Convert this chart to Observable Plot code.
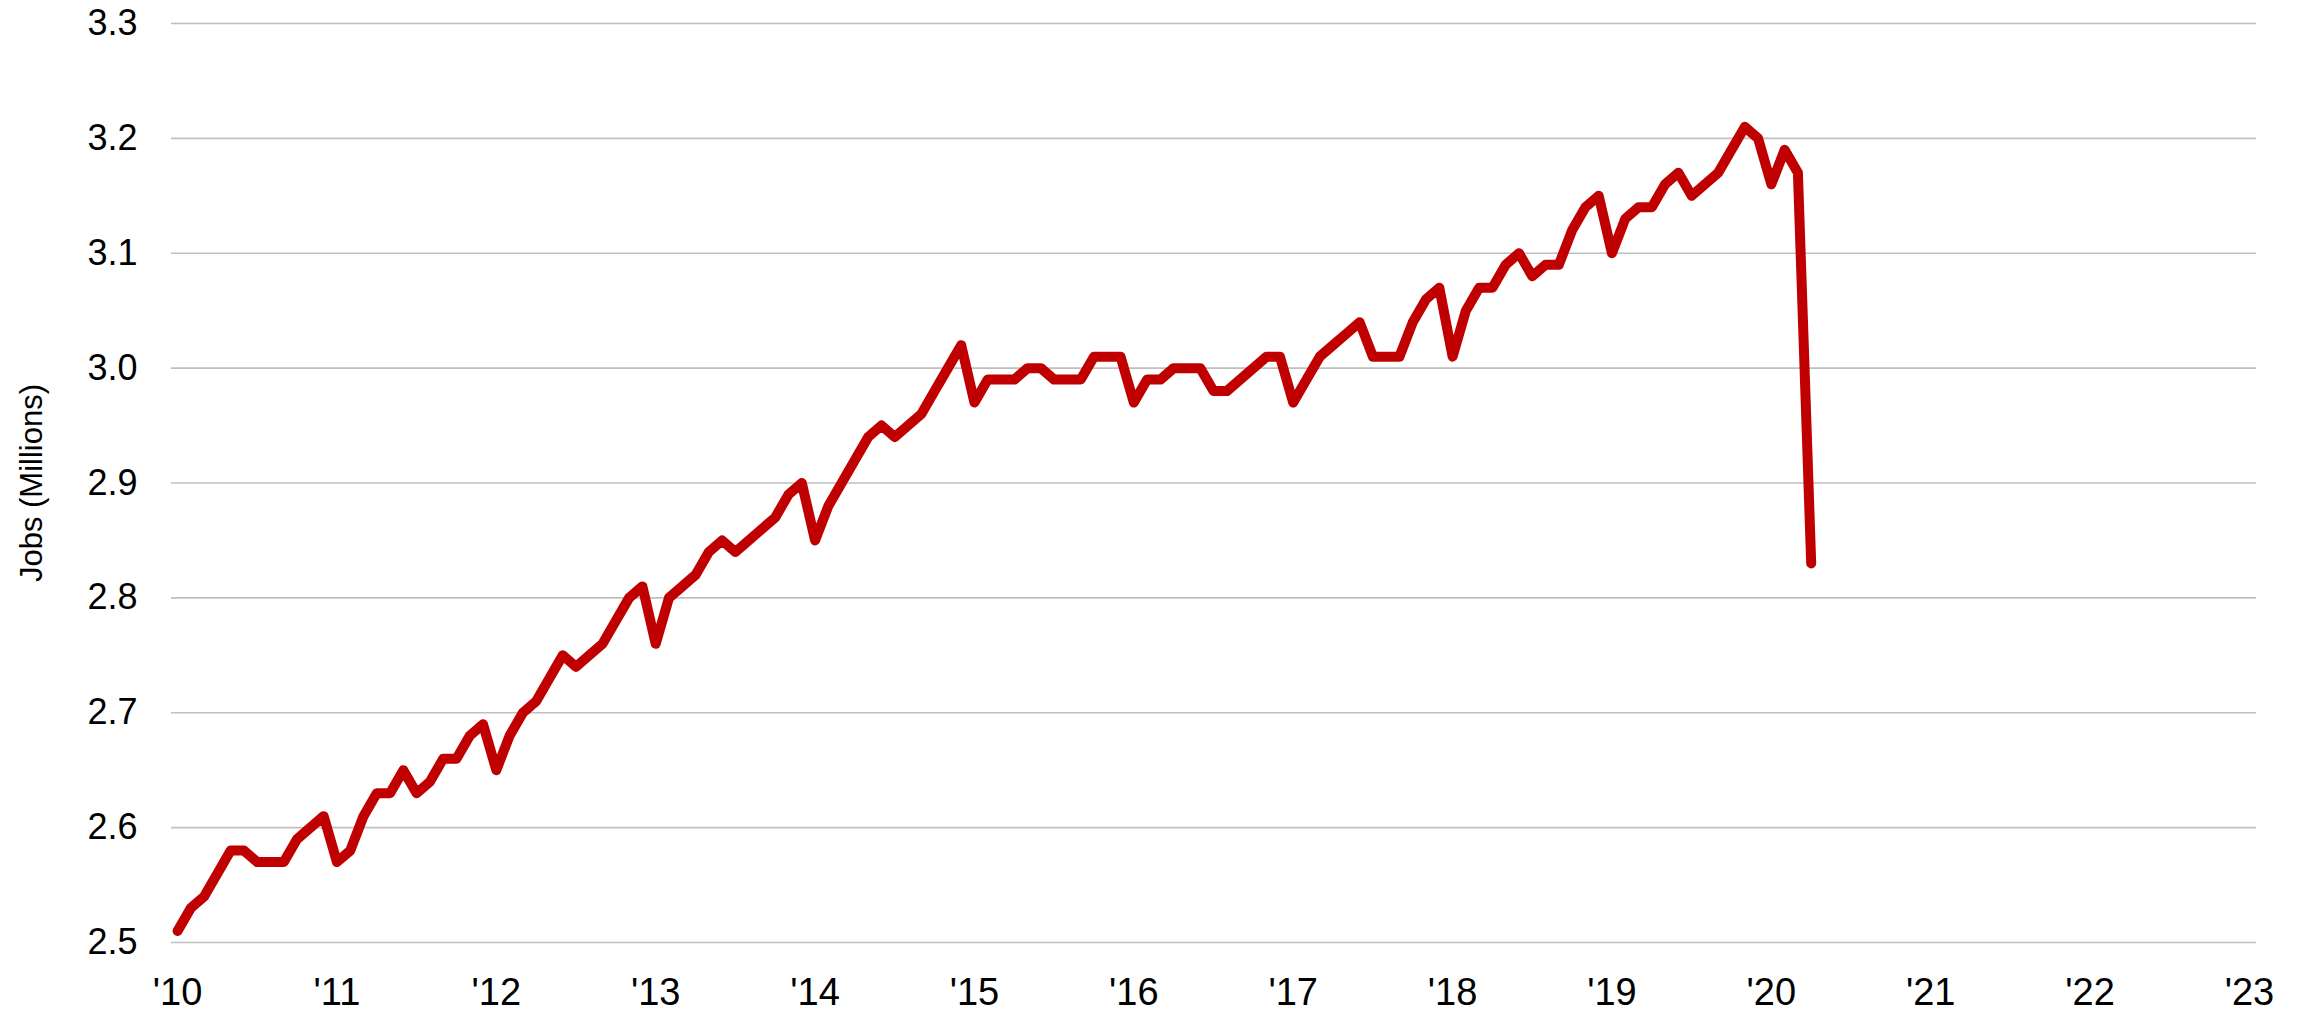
<!DOCTYPE html>
<html>
<head>
<meta charset="utf-8">
<script src="https://cdn.jsdelivr.net/npm/d3@7"></script>
<script src="https://cdn.jsdelivr.net/npm/@observablehq/plot@0.6"></script>
<style>
  html, body { margin: 0; padding: 0; background: #ffffff; }
  #chart { width: 2308px; height: 1015px; }
</style>
</head>
<body>
<div id="chart"></div>
<script>
// Monthly jobs (millions), January through December of each year
const jobs2010 = [2.51, 2.53, 2.54, 2.56, 2.58, 2.58, 2.57, 2.57, 2.57, 2.59, 2.60, 2.61];
const jobs2011 = [2.57, 2.58, 2.61, 2.63, 2.63, 2.65, 2.63, 2.64, 2.66, 2.66, 2.68, 2.69];
const jobs2012 = [2.65, 2.68, 2.70, 2.71, 2.73, 2.75, 2.74, 2.75, 2.76, 2.78, 2.80, 2.81];
const jobs2013 = [2.76, 2.80, 2.81, 2.82, 2.84, 2.85, 2.84, 2.85, 2.86, 2.87, 2.89, 2.90];
const jobs2014 = [2.85, 2.88, 2.90, 2.92, 2.94, 2.95, 2.94, 2.95, 2.96, 2.98, 3.00, 3.02];
const jobs2015 = [2.97, 2.99, 2.99, 2.99, 3.00, 3.00, 2.99, 2.99, 2.99, 3.01, 3.01, 3.01];
const jobs2016 = [2.97, 2.99, 2.99, 3.00, 3.00, 3.00, 2.98, 2.98, 2.99, 3.00, 3.01, 3.01];
const jobs2017 = [2.97, 2.99, 3.01, 3.02, 3.03, 3.04, 3.01, 3.01, 3.01, 3.04, 3.06, 3.07];
const jobs2018 = [3.01, 3.05, 3.07, 3.07, 3.09, 3.10, 3.08, 3.09, 3.09, 3.12, 3.14, 3.15];
const jobs2019 = [3.10, 3.13, 3.14, 3.14, 3.16, 3.17, 3.15, 3.16, 3.17, 3.19, 3.21, 3.20];
const jobs2020 = [3.16, 3.19, 3.17, 2.83];

const years = [2010, 2011, 2012, 2013, 2014, 2015, 2016, 2017, 2018, 2019, 2020];
const series = [jobs2010, jobs2011, jobs2012, jobs2013, jobs2014, jobs2015, jobs2016, jobs2017, jobs2018, jobs2019, jobs2020];

const xTicks = [2010, 2011, 2012, 2013, 2014, 2015, 2016, 2017, 2018, 2019, 2020, 2021, 2022, 2023];
const yTicks = [2.5, 2.6, 2.7, 2.8, 2.9, 3.0, 3.1, 3.2, 3.3];

const data = [];
years.forEach((yr, i) => {
  series[i].forEach((v, m) => data.push({t: yr + m / 12, v}));
});

const font = "'Liberation Sans', Arial, sans-serif";

const chart = Plot.plot({
  width: 2308,
  height: 1015,
  marginTop: 23,
  marginBottom: 73,
  marginLeft: 171,
  marginRight: 52,
  style: {fontFamily: font, background: "#ffffff", color: "#000000"},
  x: {type: "linear", domain: [2009.962, 2023.044]},
  y: {domain: [2.5, 3.3]},
  marks: [
    Plot.ruleY(yTicks, {stroke: "#bfbfbf", strokeWidth: 1.6}),
    Plot.axisX({
      ticks: xTicks,
      tickFormat: d => "'" + String(d).slice(2),
      tickSize: 0,
      tickPadding: 36,
      fontSize: 38,
      label: null
    }),
    Plot.axisY({
      ticks: yTicks,
      tickFormat: d => d.toFixed(1),
      tickSize: 0,
      tickPadding: 34,
      fontSize: 36,
      label: "Jobs (Millions)",
      labelAnchor: "center",
      labelArrow: "none",
      labelOffset: 152
    }),
    Plot.line(data, {
      x: "t",
      y: "v",
      stroke: "#c00000",
      strokeWidth: 10,
      strokeLinejoin: "round",
      strokeLinecap: "round"
    })
  ]
});

// y-axis label font size
chart.querySelectorAll("g[aria-label='y-axis label'] text").forEach(t => {
  t.setAttribute("font-size", "31");
});

document.getElementById("chart").appendChild(chart);
</script>
</body>
</html>
